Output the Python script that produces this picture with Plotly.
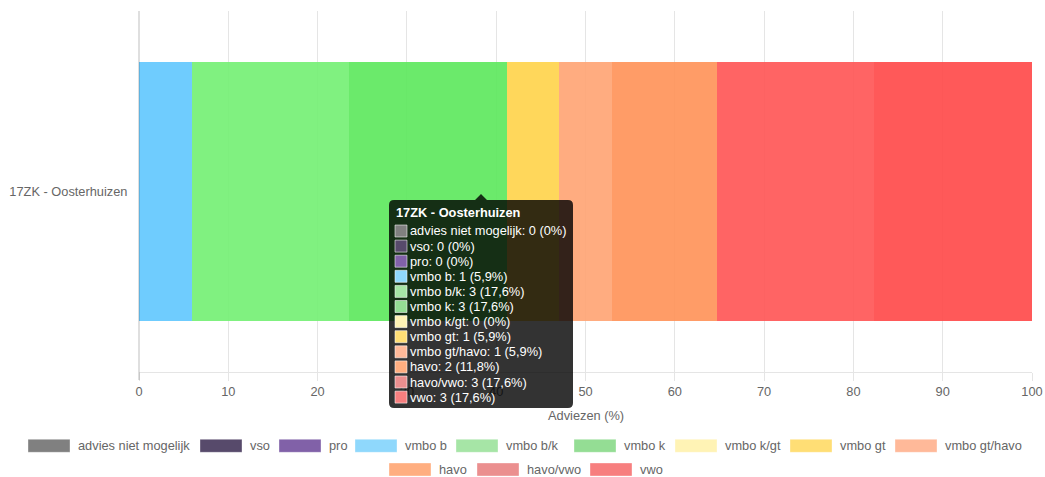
import plotly.graph_objects as go

# ---------------- data ----------------
category = "17ZK - Oosterhuizen"
series_names = ["advies niet mogelijk", "vso", "pro", "vmbo b", "vmbo b/k", "vmbo k",
                "vmbo k/gt", "vmbo gt", "vmbo gt/havo", "havo", "havo/vwo", "vwo"]
series_counts = [0, 0, 0, 1, 3, 3, 0, 1, 1, 2, 3, 3]
x_ticks = [0, 10, 20, 30, 40, 50, 60, 70, 80, 90, 100]
x_title = "Adviezen (%)"

# ---------------- styles ----------------
bar_colors = ["#808080", "#574A6B", "#8161A8", "#6FCDFE", "#80F180", "#6BEA6B",
              "#FFF3B5", "#FFD75B", "#FFAC80", "#FF9C67", "#FF6464", "#FF5959"]
legend_colors = ["#808080", "#574A6B", "#8161A8", "#8FD8FC", "#A6E5A6", "#94DD94",
                 "#FFF3B5", "#FFDE75", "#FFB999", "#FFAE80", "#EB8F8F", "#F77F7F"]
FONT = "Liberation Sans, Arial, Helvetica, sans-serif"
TXT = "#666666"
FS = 12.8

W, H = 1045, 477
ML, MR, MT, MB = 139, 13, 11, 105
PW, PH = W - ML - MR, H - MT - MB


def px(xp):
    return (xp - ML) / PW


def py(yp):
    return (H - MB - yp) / PH


def with_alpha(hexc, a=0.9):
    r, g, b = int(hexc[1:3], 16), int(hexc[3:5], 16), int(hexc[5:7], 16)
    f = lambda v: max(0, min(255, round((v - (1 - a) * 255) / a)))
    return f"rgba({f(r)},{f(g)},{f(b)},{a})"


total = sum(series_counts)
pcts = [c / total * 100 for c in series_counts]

fig = go.Figure()
for name, val, col in zip(series_names, pcts, bar_colors):
    fig.add_trace(go.Bar(
        y=[category], x=[val], name=name, orientation="h",
        marker=dict(color=with_alpha(col), line=dict(width=0)),
        showlegend=False, hoverinfo="skip"))

shapes = []
annotations = []

# zero line (y axis line) extension
shapes.append(dict(type="line", xref="paper", yref="paper", x0=0, x1=0, y0=py(380), y1=1,
                   line=dict(color="rgba(0,0,0,0.25)", width=1), layer="above"))

# ---------------- tooltip ----------------
bx0, bx1, by0, by1, r = 389, 573, 200, 408, 5
cx, tip = 481, 194
path = (f"M{px(bx0 + r)},{py(by0)} L{px(cx - 6)},{py(by0)} L{px(cx)},{py(tip)} "
        f"L{px(cx + 6)},{py(by0)} L{px(bx1 - r)},{py(by0)} "
        f"Q{px(bx1)},{py(by0)} {px(bx1)},{py(by0 + r)} L{px(bx1)},{py(by1 - r)} "
        f"Q{px(bx1)},{py(by1)} {px(bx1 - r)},{py(by1)} L{px(bx0 + r)},{py(by1)} "
        f"Q{px(bx0)},{py(by1)} {px(bx0)},{py(by1 - r)} L{px(bx0)},{py(by0 + r)} "
        f"Q{px(bx0)},{py(by0)} {px(bx0 + r)},{py(by0)} Z")
shapes.append(dict(type="path", xref="paper", yref="paper", path=path,
                   fillcolor="rgba(0,0,0,0.8)", line=dict(width=0), layer="above"))
annotations.append(dict(xref="paper", yref="paper", x=px(394), y=py(212), xanchor="left",
                        yanchor="middle", showarrow=False, text=f"<b>{category}</b>",
                        font=dict(family=FONT, size=FS, color="white")))


def fmt_pct(c):
    v = round(c / total * 100, 1)
    if v == int(v):
        return f"{int(v)}%"
    return f"{v:.1f}".replace(".", ",") + "%"


for i, (name, cnt, col) in enumerate(zip(series_names, series_counts, legend_colors)):
    yc = 231 + 15.1 * i
    shapes.append(dict(type="rect", xref="paper", yref="paper",
                       x0=px(395), x1=px(407), y0=py(yc - 6), y1=py(yc + 6),
                       fillcolor=col, line=dict(color="rgba(255,255,255,0.55)", width=1),
                       layer="above"))
    annotations.append(dict(xref="paper", yref="paper", x=px(408), y=py(yc), xanchor="left",
                            yanchor="middle", showarrow=False,
                            text=f"{name}: {cnt} ({fmt_pct(cnt)})",
                            font=dict(family=FONT, size=FS, color="white")))

# ---------------- x axis title ----------------
annotations.append(dict(xref="paper", yref="paper", x=0.5, y=py(415), xanchor="center",
                        yanchor="middle", showarrow=False, text=x_title,
                        font=dict(family=FONT, size=FS, color=TXT)))

# ---------------- legend (manual, Chart.js style) ----------------
row1_x = [28, 200, 279, 355, 456, 574, 675, 790, 895]
row2_x = [389, 477, 590]
legend_pos = [(x, 445.8) for x in row1_x] + [(x, 469.5) for x in row2_x]
for (lx, ly), name, col in zip(legend_pos, series_names, legend_colors):
    shapes.append(dict(type="rect", xref="paper", yref="paper",
                       x0=px(lx), x1=px(lx + 42), y0=py(ly - 6.5), y1=py(ly + 6.5),
                       fillcolor=col, line=dict(color="rgba(255,255,255,0.35)", width=1),
                       layer="above"))
    annotations.append(dict(xref="paper", yref="paper", x=px(lx + 48), y=py(ly),
                            xanchor="left", yanchor="middle", showarrow=False, text=name,
                            font=dict(family=FONT, size=FS, color=TXT)))

fig.update_layout(
    width=W, height=H,
    margin=dict(l=ML, r=MR, t=MT, b=MB, pad=0, autoexpand=False),
    paper_bgcolor="white", plot_bgcolor="white",
    barmode="stack", bargap=0.28,
    hovermode=False,
    showlegend=False,
    font=dict(family=FONT, size=FS, color=TXT),
    shapes=shapes, annotations=annotations,
    xaxis=dict(range=[0, 100], tickvals=x_ticks, ticktext=[str(t) for t in x_ticks],
               automargin=False,
               showgrid=True, gridcolor="rgba(0,0,0,0.1)", gridwidth=1,
               zeroline=False, showline=True, linecolor="rgba(0,0,0,0.1)", linewidth=1,
               ticks="outside", ticklen=8, tickcolor="rgba(0,0,0,0.1)",
               tickfont=dict(family=FONT, size=FS, color=TXT), fixedrange=True),
    yaxis=dict(showgrid=False, zeroline=False, showline=False, automargin=False,
               ticks="outside", ticklen=8, tickcolor="rgba(0,0,0,0)",
               tickfont=dict(family=FONT, size=FS, color=TXT), fixedrange=True),
)

fig.write_html("out.html", config={"displayModeBar": False, "staticPlot": True},
               post_script="document.body.style.margin='0';document.body.style.padding='0';")
